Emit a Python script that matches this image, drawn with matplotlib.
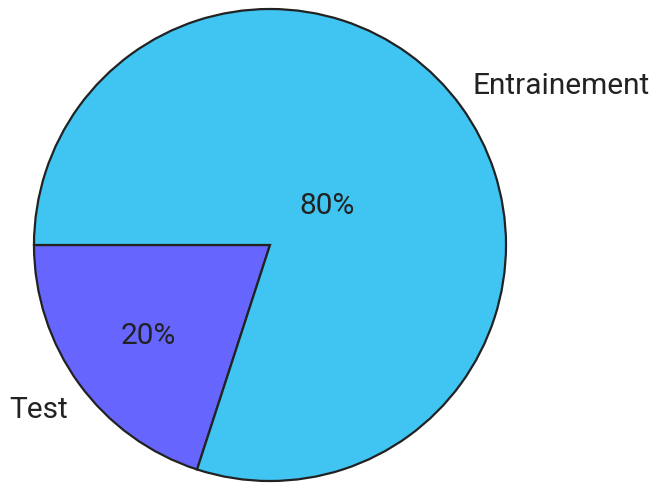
import numpy as np
import matplotlib
matplotlib.use("Agg")
import matplotlib.pyplot as plt

plt.rcParams['font.family'] = ['Roboto', 'DejaVu Sans']

categories = ["Test", "Entrainement"]
values = [20, 80]
colors = ["#6666FF", "#40C4F2"]
pct_labels = ["20%", "80%"]

W, H = 658, 483
fig = plt.figure(figsize=(W / 100, H / 100), dpi=100)
cx, cy, r = 270, 245, 236
ax = fig.add_axes([(cx - r) / W, (H - cy - r) / H, 2 * r / W, 2 * r / H])

wedges, _ = ax.pie(values, colors=colors, startangle=180, counterclock=True,
                   radius=1.0,
                   wedgeprops=dict(edgecolor="#222222", linewidth=1.6))
ax.set_xlim(-1, 1)
ax.set_ylim(-1, 1)
ax.set_aspect('equal')
ax.axis('off')

txt_color = "#222222"
fs = 21.5
# percentage labels inside the slices
pct_dist = [0.64, 0.30]
for w, lab, d in zip(wedges, pct_labels, pct_dist):
    mid = np.deg2rad((w.theta1 + w.theta2) / 2)
    ax.text(d * np.cos(mid), d * np.sin(mid) - 0.01, lab, ha='center', va='center',
            fontsize=fs, color=txt_color)

# category labels outside
ax.text(0.86, 0.675, categories[1], ha='left', va='center', fontsize=fs, color=txt_color)
ax.text(-0.855, -0.70, categories[0], ha='right', va='center', fontsize=fs, color=txt_color)

fig.savefig("out.png", dpi=100, facecolor="white")
